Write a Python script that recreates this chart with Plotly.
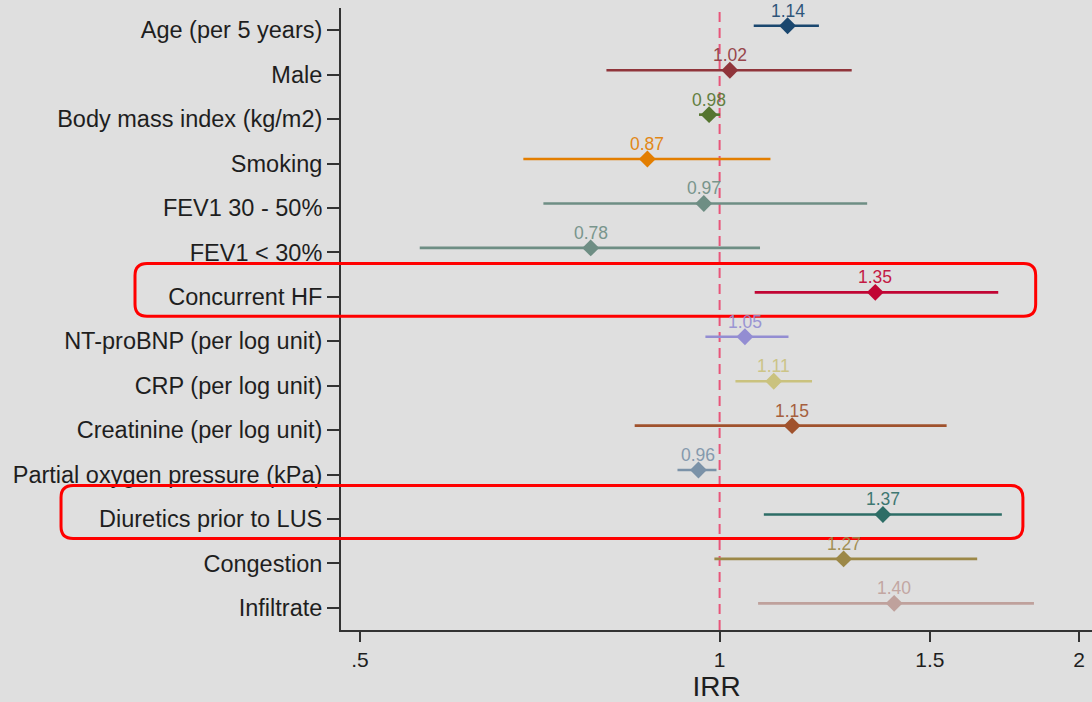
import numpy as np
import plotly.graph_objects as go

# Incidence rate ratios with 95% confidence intervals
labels = [
    "Age (per 5 years)", "Male", "Body mass index (kg/m2)", "Smoking",
    "FEV1 30 - 50%", "FEV1 < 30%", "Concurrent HF", "NT-proBNP (per log unit)",
    "CRP (per log unit)", "Creatinine (per log unit)",
    "Partial oxygen pressure (kPa)", "Diuretics prior to LUS", "Congestion", "Infiltrate",
]
irr = [1.14, 1.02, 0.98, 0.87, 0.97, 0.78, 1.35, 1.05, 1.11, 1.15, 0.96, 1.37, 1.27, 1.40]
ci_low = [1.068, 0.804, 0.961, 0.685, 0.712, 0.561, 1.070, 0.973, 1.031, 0.849, 0.922, 1.089, 0.990, 1.077]
ci_high = [1.211, 1.290, 1.001, 1.103, 1.329, 1.081, 1.711, 1.142, 1.195, 1.549, 0.994, 1.723, 1.643, 1.833]
colors = [
    "#1a476f", "#90353b", "#55752f", "#e37e00", "#6e8e84", "#6e8e84", "#c10534",
    "#938dd2", "#cac27e", "#a0522d", "#7b92a8", "#2d6d66", "#9c8847", "#bfa19c",
]
x_ticks = [0.5, 1, 1.5, 2]
x_tick_text = [".5", "1", "1.5", "2"]
highlighted = ["Concurrent HF", "Diuretics prior to LUS"]

BG = "#dfdfdf"
W, H = 1092, 702
M_L, M_R, M_T, M_B = 341, 0, 8, 72
plot_w = W - M_L - M_R
plot_h = H - M_T - M_B
n = len(labels)
rows = np.arange(1, n + 1)
# markers sit slightly above the row tick
marker_lift = 0.1

fig = go.Figure()
for i in range(n):
    y_i = rows[i] - marker_lift
    fig.add_trace(go.Scatter(
        x=[irr[i]], y=[y_i],
        mode="markers",
        marker=dict(symbol="diamond", size=13, color=colors[i], line=dict(width=0)),
        error_x=dict(
            type="data", symmetric=False,
            array=[ci_high[i] - irr[i]], arrayminus=[irr[i] - ci_low[i]],
            color=colors[i], thickness=2.6, width=0,
        ),
        showlegend=False, hoverinfo="skip",
    ))
    fig.add_annotation(
        x=np.log10(irr[i]), y=y_i, xref="x", yref="y",
        text=f"{irr[i]:.2f}", showarrow=False, yshift=15,
        font=dict(family="Liberation Sans, Arial", size=17.5, color=colors[i]),
        opacity=0.9,
    )

# reference line at IRR = 1
fig.add_shape(type="line", xref="x", yref="paper", x0=1, x1=1, y0=0, y1=1,
              line=dict(color="#e8557a", width=2, dash="10px,6px"), layer="below")

# rounded highlight frames around selected rows
box_extent = {"Concurrent HF": (-0.2743, 0.925), "Diuretics prior to LUS": (-0.3728, 0.908)}
px_per_row = plot_h / n
r_px = 12
for name in highlighted:
    k = labels.index(name)
    yc = rows[k]
    y_top, y_bot = yc - 0.75, yc + 0.44
    x0, x1 = box_extent[name]
    rx = r_px / plot_w
    ry = r_px / px_per_row
    path = (
        f"M {x0 + rx},{y_top} L {x1 - rx},{y_top} Q {x1},{y_top} {x1},{y_top + ry} "
        f"L {x1},{y_bot - ry} Q {x1},{y_bot} {x1 - rx},{y_bot} "
        f"L {x0 + rx},{y_bot} Q {x0},{y_bot} {x0},{y_bot - ry} "
        f"L {x0},{y_top + ry} Q {x0},{y_top} {x0 + rx},{y_top} Z"
    )
    fig.add_shape(type="path", xref="paper", yref="y", path=path,
                  line=dict(color="#ff0000", width=3), fillcolor="rgba(0,0,0,0)")

fig.update_layout(
    width=W, height=H,
    margin=dict(l=M_L, r=M_R, t=M_T, b=M_B),
    paper_bgcolor=BG, plot_bgcolor=BG,
    font=dict(family="Liberation Sans, Arial", color="#1e1e1e"),
    xaxis=dict(
        type="log", range=[np.log10(0.482), np.log10(2.05)],
        tickvals=x_ticks, ticktext=x_tick_text,
        ticks="outside", ticklen=10, tickwidth=2, tickcolor="#333333",
        tickfont=dict(size=21),
        showline=True, linecolor="#333333", linewidth=2,
        showgrid=False, zeroline=False,
        title=dict(text="IRR", font=dict(size=28), standoff=4),
    ),
    yaxis=dict(
        range=[n + 0.5, 0.5],
        tickvals=list(rows), ticktext=labels,
        ticks="outside", ticklen=12, tickwidth=2, tickcolor="#333333",
        tickfont=dict(size=23.5),
        showline=True, linecolor="#333333", linewidth=2,
        showgrid=False, zeroline=False,
    ),
)

fig.write_html("out.html")
